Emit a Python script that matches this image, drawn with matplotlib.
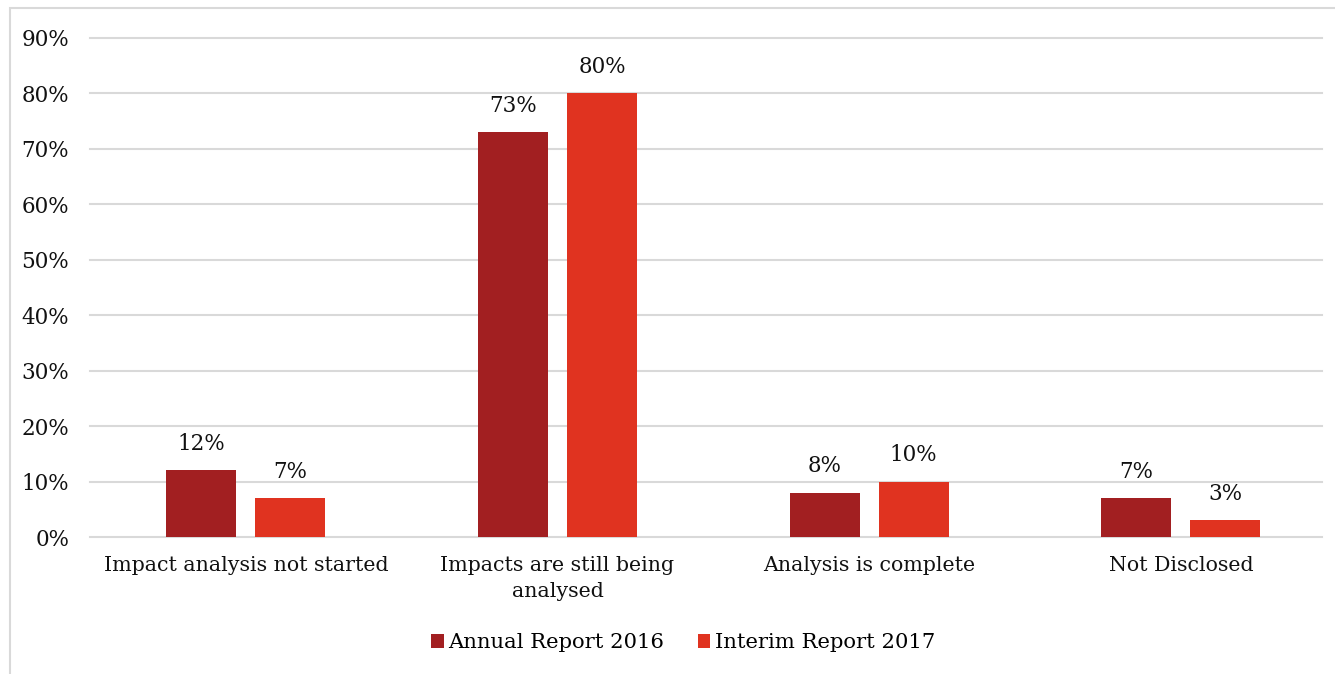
import numpy as np
import matplotlib.pyplot as plt
from matplotlib.patches import Rectangle

plt.rcParams['font.family'] = ['DejaVu Serif']

categories = ["Impact analysis not started", "Impacts are still being\nanalysed",
              "Analysis is complete", "Not Disclosed"]
annual_2016 = [12, 73, 8, 7]
interim_2017 = [7, 80, 10, 3]
series_names = ["Annual Report 2016", "Interim Report 2017"]
colors = ["#A21F21", "#E03320"]

fig = plt.figure(figsize=(13.35, 6.74), dpi=100)
ax = fig.add_axes([90 / 1335, 1 - 537 / 674, 1232 / 1335, 499 / 674])

# outer chart border
fig.patches.append(Rectangle((10 / 1335, -0.05), 1.2, 1 - 8 / 674 + 0.05,
                             transform=fig.transFigure, fill=False,
                             edgecolor="#D9D9D9", linewidth=1.5))

x = np.arange(len(categories))
width = 0.225
offset = (width + 0.061) / 2

for vals, name, col, sign in [(annual_2016, series_names[0], colors[0], -1),
                              (interim_2017, series_names[1], colors[1], 1)]:
    bars = ax.bar(x + sign * offset, vals, width, color=col, label=name, zorder=3)
    for b, v in zip(bars, vals):
        ax.text(b.get_x() + b.get_width() / 2, v + 2.8, f"{v}%",
                ha="center", va="bottom", fontsize=15.5, color="#111111")

# the plot area is cut off on the right, so the last category runs past the edge
ax.set_xlim(-0.5, 3.453)
ax.set_ylim(0, 90)
ax.set_yticks(range(0, 91, 10))
ax.set_yticklabels([f"{v}%" for v in range(0, 91, 10)], fontsize=15.5, color="#111111")
ax.set_xticks(x)
ax.set_xticklabels(categories, fontsize=14.8, color="#111111", linespacing=1.45)
ax.tick_params(axis="both", length=0)
ax.tick_params(axis="y", pad=15)
ax.tick_params(axis="x", pad=14)
ax.grid(axis="y", color="#D9D9D9", linewidth=1.5, zorder=0)
for gl in ax.get_ygridlines():
    gl.set_clip_on(False)
for s in ax.spines.values():
    s.set_visible(False)

ax.legend(loc="center", bbox_to_anchor=(683 / 1335, 1 - 643 / 674),
          bbox_transform=fig.transFigure, ncol=2, frameon=False,
          fontsize=15.2, handlelength=0.6, handleheight=0.6,
          handletextpad=0.2, columnspacing=1.6)

fig.savefig("out.png", dpi=100)
